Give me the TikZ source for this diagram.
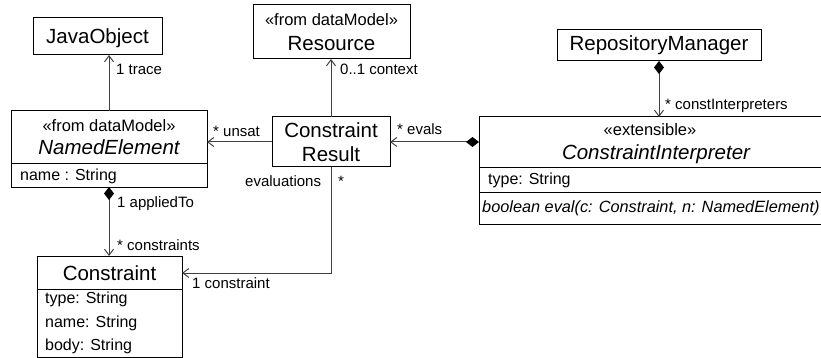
\documentclass[tikz,border=0pt]{standalone}
\usepackage{fontspec}
\setmainfont{Liberation Sans}
\usetikzlibrary{arrows.meta}
\tikzset{
 box/.style={draw=black, line width=1pt, inner sep=0pt, outer sep=0pt},
 big/.style={font=\fontsize{20.5}{24}\selectfont, inner sep=0pt, anchor=base},
 stereo/.style={font=\fontsize{16.5}{19}\selectfont, inner sep=0pt, anchor=base},
 attr/.style={font=\fontsize{16}{19}\selectfont, inner sep=0pt, anchor=base west},
 lbl/.style={font=\fontsize{15}{18}\selectfont, inner sep=0pt, anchor=base west},
 assoc/.style={draw=black!75, line width=1pt},
 nav/.style={-{Straight Barb[length=6pt,width=9pt]}},
 compnav/.style={{Diamond[length=13pt,width=10pt,color=black]}-{Straight Barb[length=6pt,width=9pt]}},
 divider/.style={draw=black, line width=1pt}
}
\begin{document}
\begin{tikzpicture}[x=1pt,y=-1pt]
\useasboundingbox (0,0) rectangle (821,358);
% JavaObject
\node[box, minimum width=129pt, minimum height=37pt] (java) at (97.5,36.5) {};
\node[big] (javat) at (97.5,43.3) {JavaObject};
% Resource
\node[box, minimum width=157pt, minimum height=54pt] (res) at (331.5,32) {};
\node[stereo] (rests) at (331.5,26) {«from dataModel»};
\node[big] (rest) at (331.5,50.5) {Resource};
% NamedElement
\node[box, minimum width=196pt, minimum height=76pt] (ne) at (109,149) {};
\node[stereo] (nests) at (109,131.7) {«from dataModel»};
\node[big] (net) at (109,155) {\itshape NamedElement};
\draw[divider] (ne.west |- 0,163.5) -- (ne.east |- 0,163.5);
\node[attr] (nea) at (20,180) {name : String};
% ConstraintResult
\node[box, minimum width=118pt, minimum height=50pt] (cr) at (331,142) {};
\node[big] (crt1) at (331,138) {Constraint};
\node[big] (crt2) at (331,161.5) {Result};
% RepositoryManager
\node[box, minimum width=204pt, minimum height=31pt] (rm) at (659,45.5) {};
\node[big] (rmt) at (659,51) {RepositoryManager};
% ConstraintInterpreter (right edge runs off the picture)
\node[box, minimum width=381pt, minimum height=107pt] (ci) at (669.5,170.5) {};
\node[stereo] (cist) at (650,136) {«extensible»};
\node[big] (cit) at (656,160) {\itshape ConstraintInterpreter};
\draw[divider] (ci.west |- 0,168) -- (ci.east |- 0,168);
\node[attr] (cia) at (488,184) {type: String};
\draw[divider] (ci.west |- 0,192) -- (ci.east |- 0,192);
\node[attr, font=\fontsize{16.3}{19}\selectfont] (cio) at (482,212) {\itshape boolean eval(c: Constraint, n: NamedElement)};
% Constraint
\node[box, minimum width=145pt, minimum height=101pt] (con) at (109.5,306.5) {};
\node[big] (cont) at (109.5,280) {Constraint};
\draw[divider] (con.west |- 0,289) -- (con.east |- 0,289);
\node[attr] (cona1) at (45,303) {type: String};
\node[attr] (cona2) at (45,327) {name: String};
\node[attr] (cona3) at (45,350.5) {body: String};
% connectors
\draw[assoc, nav] (ne.north) -- (ne.north |- java.south);
\node[lbl] (l1) at (116,75) {1 trace};
\draw[assoc, nav] (cr.north) -- (cr.north |- res.south);
\node[lbl] (l2) at (340,75) {0..1 context};
\draw[assoc, nav] (cr.west) -- (cr.west -| ne.east);
\node[lbl] (l3) at (213,137) {* unsat};
\draw[assoc, compnav] (cr.east -| ci.west) -- (cr.east);
\node[lbl] (l4) at (397,135) {* evals};
\draw[assoc, compnav] (rm.south) -- (rm.south |- ci.north);
\node[lbl] (l5) at (665,110) {* constInterpreters};
\draw[assoc, compnav] (ne.south) -- (ne.south |- con.north);
\node[lbl] (l6) at (117,207) {1 appliedTo};
\node[lbl] (l7) at (117,250.5) {* constraints};
\coordinate (bend) at (331,273);
\draw[assoc, nav] (cr.south) -- (bend) -- (bend -| con.east);
\node[lbl] (l8) at (245,186) {evaluations};
\node[lbl] (l9) at (338,186) {*};
\node[lbl] (l10) at (192,288) {1 constraint};
\end{tikzpicture}
\end{document}
